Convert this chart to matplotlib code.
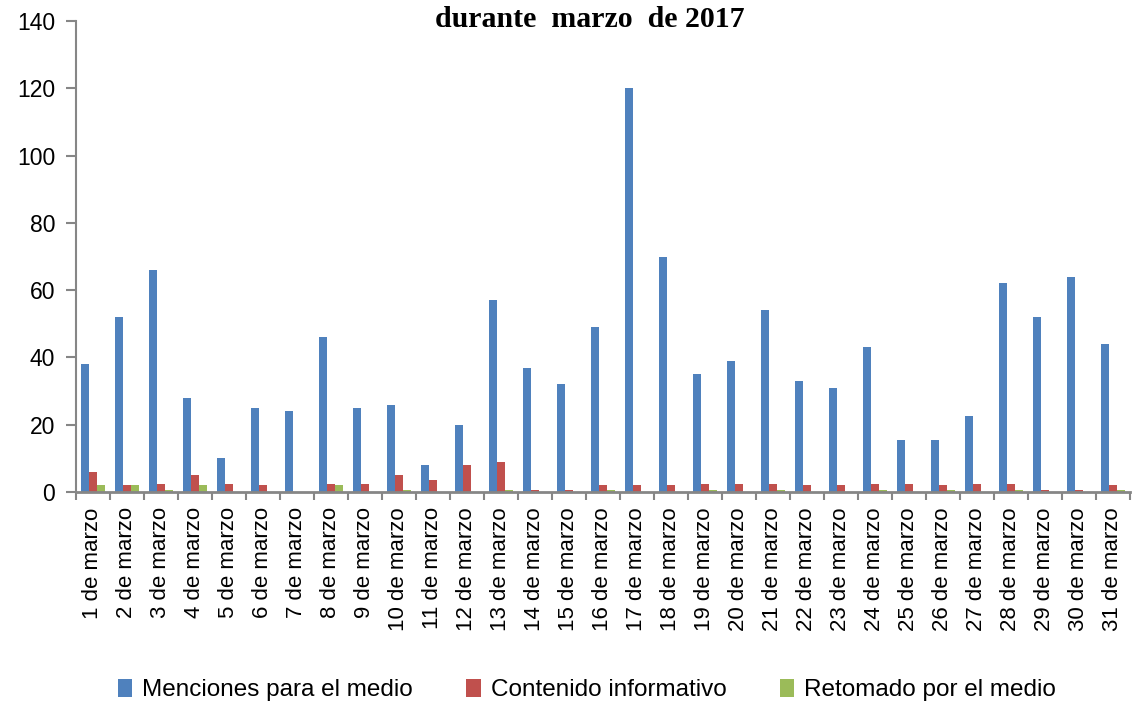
import matplotlib
matplotlib.use("Agg")
import matplotlib.pyplot as plt
import numpy as np

dias = [f"{d} de marzo" for d in range(1, 32)]
menciones = [38, 52, 66, 28, 10, 25, 24, 46, 25, 26, 8, 20, 57, 37, 32, 49,
             120, 70, 35, 39, 54, 33, 31, 43, 15.5, 15.5, 22.5, 62, 52, 64, 44]
contenido = [6, 2, 2.5, 5, 2.5, 2, 0, 2.5, 2.5, 5, 3.5, 8, 9, 0.5, 0.5, 2,
             2, 2, 2.5, 2.5, 2.5, 2, 2, 2.5, 2.5, 2, 2.5, 2.5, 0.5, 0.5, 2]
retomado = [2, 2, 0.7, 2, 0, 0, 0, 2, 0, 0.6, 0, 0, 0.6, 0, 0, 0.6,
            0, 0, 0.6, 0, 0.6, 0, 0, 0.6, 0, 0.6, 0, 0.6, 0, 0, 0.6]
series = ["Menciones para el medio", "Contenido informativo", "Retomado por el medio"]
colores = ["#4f81bd", "#c0504d", "#9bbb59"]

plt.rcParams['font.family'] = ['Liberation Sans', 'DejaVu Sans']

fig = plt.figure(figsize=(11.35, 7.04), dpi=100)
ax = fig.add_axes([76/1135, 212/704, 1054/1135, 471/704])

x = np.arange(len(dias))
w = 0.234
for i, (vals, nombre) in enumerate(zip([menciones, contenido, retomado], series)):
    ax.bar(x + (i - 1) * w, vals, w, color=colores[i], label=nombre)

ax.set_xlim(-0.5, len(dias) - 0.5)
ax.set_ylim(0, 140)
ax.set_yticks(range(0, 141, 20))
ax.set_xticks(x)
ax.set_xticklabels(dias, rotation=90, fontsize=16)
ax.set_xticks(np.arange(-0.5, len(dias), 1), minor=True)
ax.tick_params(axis='x', which='major', length=0, pad=11)
ax.tick_params(axis='x', which='minor', length=6, width=1.5, color='#868686', direction='out')
ax.tick_params(axis='y', length=7, width=1.5, color='#868686', labelsize=16.5, pad=8)

for s in ['top', 'right']:
    ax.spines[s].set_visible(False)
ax.spines['left'].set_color('#868686')
ax.spines['left'].set_linewidth(1.5)
ax.spines['bottom'].set_color('#868686')
ax.spines['bottom'].set_linewidth(2)

fig.text(0.52, 0.972, "durante  marzo  de 2017", ha='center', va='center',
         family='Liberation Serif', fontweight='bold', fontsize=21.5)

fig.legend(loc='center', bbox_to_anchor=(0.517, 1 - 690/704), ncol=3, frameon=False,
           fontsize=17.5, handlelength=0.6, handleheight=0.8, columnspacing=2.2,
           handletextpad=0.4)

fig.savefig("out.png", dpi=100)
